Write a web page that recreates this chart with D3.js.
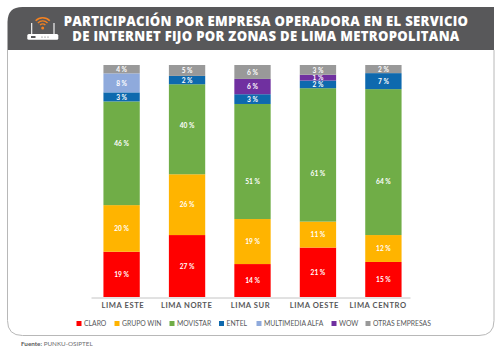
<!DOCTYPE html>
<html><head><meta charset="utf-8">
<script src="https://cdn.jsdelivr.net/npm/d3@7/dist/d3.min.js"></script>
<style>html,body{margin:0;padding:0;background:#fff}svg{display:block}text{font-family:Lato,"Open Sans",sans-serif}</style>
</head><body><svg id="c" width="500" height="353"></svg>
<script>
const titleLines=["PARTICIPACIÓN POR EMPRESA OPERADORA EN EL SERVICIO","DE INTERNET FIJO POR ZONAS DE LIMA METROPOLITANA"];
const zones=["LIMA ESTE","LIMA NORTE","LIMA SUR","LIMA OESTE","LIMA CENTRO"];
const companies=["CLARO","GRUPO WIN","MOVISTAR","ENTEL","MULTIMEDIA ALFA","WOW","OTRAS EMPRESAS"];
const colors=["#ff0000","#ffb400","#70ad47","#0e69ae","#8faadc","#7030a0","#999999"];
const claro=[19.5,26.7,14.2,21.3,15.1];
const grupoWin=[20.1,26.2,19.4,11.2,11.6];
const movistar=[44.7,38.8,49.6,57.5,62.9];
const entel=[3.9,3.6,4.2,3.3,6.9];
const alfa=[8.2,0,0,0,0];
const wow=[0,0,6.6,2.5,0];
const otras=[3.6,4.7,6.0,4.2,3.5];
const claroLabels=["19 %","27 %","14 %","21 %","15 %"];
const winLabels=["20 %","26 %","19 %","11 %","12 %"];
const movistarLabels=["46 %","40 %","51 %","61 %","64 %"];
const entelLabels=["3 %","2 %","3 %","2 %","7 %"];
const alfaLabels=["8 %","","","",""];
const wowLabels=["","","6 %","1 %",""];
const otrasLabels=["4 %","5 %","6 %","3 %","2 %"];
const source=["Fuente:"," PUNKU-OSIPTEL"];
const series=[claro,grupoWin,movistar,entel,alfa,wow,otras];
const labels=[claroLabels,winLabels,movistarLabels,entelLabels,alfaLabels,wowLabels,otrasLabels];
// hand-placed green labels in the original sit off-centre (pixels)
const movistarLabelShift=[-10,-3.5,20,19,20];

const svg=d3.select("#c");
const x=d3.scaleBand().domain(zones).range([91,414]).paddingInner(0.445).paddingOuter(0.19);
const xAxisScale=d3.scaleBand().domain(zones).range([91,410]);
const y=d3.scaleLinear().domain([0,100]).range([297,65]);
const rows=zones.map((z,i)=>{const o={zone:z};companies.forEach((c,j)=>o[c]=series[j][i]);return o;});
const stacked=d3.stack().keys(companies)(rows);

// panel
const L=7.5,R=494,T=7,B=50,P=335.5,r=15;
svg.append("path").attr("d",`M${L},${B}V${P-r}Q${L},${P} ${L+r},${P}H${R-r}Q${R},${P} ${R},${P-r}V${B}`)
  .attr("fill","#fff").attr("stroke","#b8b8b8").attr("stroke-width",1);
svg.append("path").attr("d",`M${L},${B}V${T+r}Q${L},${T} ${L+r},${T}H${R}V${B}Z`).attr("fill","#58585a");

// router icon
const icon=svg.append("g");
icon.append("rect").attr("x",27.3).attr("y",34).attr("width",31).attr("height",5.8).attr("rx",1.5).attr("fill","#fff");
icon.append("rect").attr("x",31).attr("y",36).attr("width",4.5).attr("height",2).attr("fill","#58585a");
[42,45,48].forEach(v=>icon.append("circle").attr("cx",v).attr("cy",37).attr("r",.6).attr("fill","#58585a"));
icon.append("path").attr("d","M31.7,34V23M54,34V23").attr("stroke","#fff").attr("stroke-width",1.1);
const arc=d3.arc();
[[3,4.4],[6,7.4],[9,10.6]].forEach(([a,b])=>icon.append("path")
  .attr("d",arc({innerRadius:a,outerRadius:b,startAngle:-0.8,endAngle:0.8}))
  .attr("transform","translate(42.7,27.6)").attr("fill","#f58220"));
icon.append("circle").attr("cx",42.7).attr("cy",28).attr("r",1.5).attr("fill","#f58220");

// title
svg.selectAll("text.title").data(titleLines).join("text").attr("class","title")
  .attr("x",266).attr("y",(d,i)=>25.5+i*15.7).attr("text-anchor","middle")
  .attr("fill","#fff").attr("font-size",13.1).attr("font-weight",800).attr("letter-spacing",.3)
  .style("font-family","'Open Sans'").text(d=>d);

// bars
const g=svg.append("g");
stacked.forEach((s,j)=>{
  g.append("g").selectAll("rect").data(s).join("rect")
   .attr("x",d=>x(d.data.zone)).attr("width",x.bandwidth())
   .attr("y",d=>y(d[1])).attr("height",d=>y(d[0])-y(d[1]))
   .attr("fill",colors[j]);
  g.append("g").selectAll("text").data(s).join("text")
   .attr("x",d=>x(d.data.zone)+x.bandwidth()/2)
   .attr("y",(d,i)=>(y(d[0])+y(d[1]))/2+(j===2?movistarLabelShift[i]:0.5))
   .attr("dy","0.35em").attr("text-anchor","middle").attr("fill","#fff")
   .attr("font-size",6.6).attr("font-weight",700)
   .text((d,i)=>labels[j][i]);
});

// axis
const ax=svg.append("g").attr("transform","translate(0,297.5)").call(d3.axisBottom(xAxisScale).tickSize(0).tickPadding(5.5));
ax.select(".domain").attr("stroke","#c4c4c4");
ax.selectAll("text").attr("font-size",7.6).attr("font-weight",700).attr("fill","#58585a").attr("letter-spacing",.55).style("font-family","Lato");

// legend
const legendX=[76.5,114.5,169.5,219,256.5,331.5,365.5];
const lg=svg.append("g").selectAll("g").data(companies).join("g").attr("transform",(d,i)=>`translate(${legendX[i]},0)`);
lg.append("rect").attr("y",321).attr("width",5).attr("height",5).attr("fill",(d,i)=>colors[i]);
lg.append("text").attr("x",7.5).attr("y",326).attr("font-size",6.8).attr("fill","#58585a").text(d=>d);

// source
const st=svg.append("text").attr("x",21).attr("y",345.5).attr("font-size",6.3).attr("fill","#6d6e71");
st.append("tspan").attr("font-weight",700).attr("fill","#58585a").text(source[0]);
st.append("tspan").text(source[1]);
</script></body></html>
